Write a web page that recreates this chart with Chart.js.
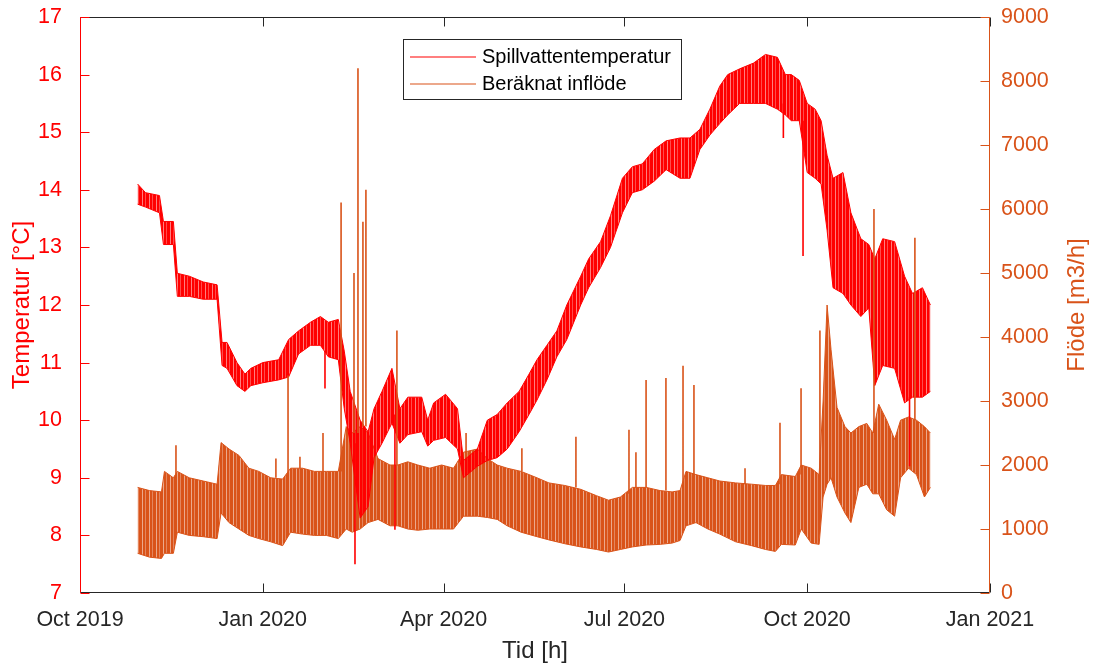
<!DOCTYPE html>
<html>
<head>
<meta charset="utf-8">
<script src="https://cdn.jsdelivr.net/npm/chart.js@4.4.1/dist/chart.umd.min.js"></script>
<style>
  html, body { margin: 0; padding: 0; background: #fff; }
  #wrap { width: 1095px; height: 666px; }
</style>
</head>
<body>
<div id="wrap"><canvas id="chart" width="1095" height="666"></canvas></div>
<script>
// x positions are days counted from 1 Oct 2019
const xTickDays = [0, 92, 183, 274, 366, 458];
const xTickLabels = ['Oct 2019', 'Jan 2020', 'Apr 2020', 'Jul 2020', 'Oct 2020', 'Jan 2021'];

// wastewater temperature, upper / lower daily envelope [°C]
const tempDays = [29, 33, 40, 42, 47, 49, 55, 62, 69, 71.5, 74, 79, 83, 86, 92, 100, 105, 110, 116, 121,
  125, 130, 133, 136, 141, 145, 148, 152, 157, 161, 165, 172, 175, 178, 184, 190, 193, 200, 205, 210,
  215, 221, 226, 230, 235, 240, 245, 252, 256, 262, 267, 273, 278, 283, 289, 295, 302, 307, 312, 317,
  322, 326, 332, 339, 345, 351, 355, 358, 362, 366, 370, 373, 376, 379, 384, 388, 393, 397, 400, 404,
  410, 415, 419, 424, 428];
const tempHigh = [14.1, 13.95, 13.9, 13.45, 13.45, 12.55, 12.5, 12.4, 12.35, 11.35, 11.35, 11.0, 10.8, 10.9, 11.0, 11.05, 11.4, 11.55, 11.7, 11.8,
  11.7, 11.75, 11.2, 10.5, 10.0, 9.8, 10.2, 10.5, 10.9, 10.2, 10.4, 10.4, 10.0, 10.3, 10.45, 10.2, 9.3, 9.5, 10.0, 10.1,
  10.3, 10.5, 10.8, 11.05, 11.3, 11.55, 12.0, 12.5, 12.8, 13.1, 13.55, 14.2, 14.4, 14.45, 14.7, 14.85, 14.9, 14.9, 15.05, 15.4,
  15.8, 16.0, 16.1, 16.2, 16.35, 16.3, 16.0, 16.0, 15.9, 15.5, 15.4, 15.2, 14.6, 14.2, 14.3, 13.6, 13.15, 13.05, 12.8, 13.15,
  13.1, 12.5, 12.2, 12.3, 12.0];
const tempLow = [13.75, 13.7, 13.6, 13.05, 13.05, 12.15, 12.15, 12.1, 12.1, 10.95, 10.9, 10.6, 10.5, 10.6, 10.65, 10.7, 10.75, 11.15, 11.3, 11.3,
  11.1, 11.05, 10.2, 9.6, 8.3, 8.5, 9.35, 9.6, 9.95, 9.6, 9.75, 9.8, 9.55, 9.65, 9.7, 9.5, 9.0, 9.2, 9.3, 9.35,
  9.5, 9.8, 10.1, 10.35, 10.7, 11.1, 11.4, 12.0, 12.3, 12.65, 13.0, 13.6, 13.95, 14.0, 14.15, 14.35, 14.2, 14.2, 14.7, 14.95,
  15.15, 15.3, 15.5, 15.5, 15.5, 15.4, 15.3, 15.2, 15.2, 14.3, 14.2, 14.1, 13.3, 12.3, 12.2, 12.0, 11.8, 11.95, 10.6, 10.95,
  10.9, 10.3, 10.4, 10.4, 10.5];

// short temperature drops: day, level before, lowest reading
const tempDropDays = [123.3, 138.4, 158.5, 354, 363.9, 417.5];
const tempDropFrom = [11.2, 9.6, 10.1, 15.5, 15.2, 10.4];
const tempDropTo = [10.55, 7.5, 8.1, 14.9, 12.85, 9.2];

// calculated inflow, upper / lower daily envelope [m3/h]
const flowDays = [29, 35, 41, 42.5, 47, 49, 55, 62, 69, 71, 75, 80, 85, 90, 96, 102, 106, 112, 118, 124,
  130, 134, 137, 141, 145, 150, 156, 160, 165, 170, 176, 182, 188, 193, 200, 205, 210, 215, 222, 230,
  236, 244, 252, 260, 266, 272, 278, 285, 292, 298, 302, 305, 310, 316, 322, 330, 338, 345, 350, 353,
  360, 363, 368, 372, 374, 376, 378, 381, 385, 388, 392, 396, 399, 402, 406, 410, 413, 417, 421, 425,
  428];
const flowHigh = [1650, 1600, 1580, 1900, 1800, 1900, 1800, 1750, 1700, 2350, 2250, 2150, 1950, 1900, 1800, 1780, 1950, 1950, 1900, 1900,
  1900, 2600, 2500, 2600, 2500, 2100, 2000, 2000, 2050, 2000, 1950, 2000, 1950, 2200, 2250, 2100, 2000, 1950, 1900, 1800,
  1720, 1680, 1620, 1520, 1450, 1500, 1650, 1650, 1600, 1580, 1600, 1900, 1850, 1800, 1750, 1720, 1700, 1680, 1680, 1850,
  1820, 2000, 1950, 1850, 3000, 4500, 3800, 2900, 2600, 2500, 2600, 2650, 2500, 2950, 2700, 2400, 2700, 2750, 2700, 2600,
  2500];
const flowLow = [620, 560, 540, 620, 620, 950, 900, 880, 850, 1250, 1100, 1000, 900, 850, 800, 740, 950, 920, 900, 900,
  850, 1000, 950, 1000, 1100, 1150, 1050, 1050, 1000, 980, 1000, 1000, 1000, 1200, 1200, 1180, 1150, 1050, 950, 880,
  830, 770, 720, 680, 640, 680, 720, 750, 760, 780, 820, 1050, 1100, 1000, 920, 800, 740, 680, 650, 760,
  750, 1000, 780, 760, 1500, 1700, 1800, 1500, 1250, 1100, 1650, 1700, 1550, 1550, 1300, 1200, 1800, 1950, 1850, 1500,
  1650];

// single-hour inflow peaks: day, band level, peak value
const flowPeakDays = [48.3, 98.6, 104.7, 110.7, 122.3, 131.4, 137.9, 139.9, 142.4, 143.9, 159.5, 194.3, 222.4,
  249.6, 276.3, 279.8, 284.9, 294.9, 303.5, 309, 334.7, 352.3, 362.9, 372.4, 399.6, 420.2];
const flowPeakBase = [1850, 1800, 1780, 1950, 1900, 1900, 2500, 2500, 2600, 2600, 2000, 2200, 1900,
  1650, 1550, 1650, 1650, 1600, 1600, 1850, 1700, 1700, 1850, 1850, 2500, 2700];
const flowPeakTop = [2310, 2100, 3400, 2130, 2500, 6100, 5000, 8200, 5800, 6300, 4100, 2500, 2260,
  2440, 2550, 2200, 3330, 3360, 3550, 3250, 1950, 2660, 3200, 4100, 6000, 5550];

const RED = '#ff0000';
const ORANGE = '#d95319';
const DARK = '#262626';
const FONT = "'Liberation Sans', Arial, sans-serif";

Chart.defaults.font.family = FONT;
Chart.defaults.color = DARK;

function series(days, vals) {
  return days.map((d, i) => ({ x: d, y: vals[i] }));
}

// vertical strokes, one per entry, separated by gaps
function strokes(days, from, to) {
  const pts = [];
  days.forEach((d, i) => {
    pts.push({ x: d, y: from[i] }, { x: d, y: to[i] }, { x: d, y: null });
  });
  return pts;
}

// striped fill so the hourly band keeps a vertical texture
function stripes(color) {
  const alphas = [1, 1, 0.5, 1, 1, 0.7, 1];
  const c = document.createElement('canvas');
  c.width = alphas.length; c.height = 4;
  const g = c.getContext('2d');
  g.fillStyle = color;
  alphas.forEach((al, i) => {
    g.globalAlpha = al;
    g.fillRect(i, 0, 1, 4);
  });
  return g.createPattern(c, 'repeat');
}

const lineBase = { borderWidth: 1, pointRadius: 0, tension: 0, spanGaps: false };

const noPad = s => { s.paddingTop = 0; s.paddingBottom = 0; s.paddingLeft = 0; s.paddingRight = 0; };

// axis lines with inward ticks
const frame = {
  id: 'frame',
  afterDraw(chart) {
    const { ctx, chartArea: a, scales } = chart;
    const tl = 9;
    const L = Math.round(a.left) + 0.5, R = Math.round(a.right) - 0.5;
    const T = Math.round(a.top) + 0.5, B = Math.round(a.bottom) - 0.5;
    ctx.save();
    ctx.lineWidth = 1;

    ctx.strokeStyle = DARK;
    ctx.beginPath();
    ctx.moveTo(L, T); ctx.lineTo(R, T);
    ctx.moveTo(L, B); ctx.lineTo(R, B);
    scales.x.ticks.forEach(t => {
      const px = Math.round(scales.x.getPixelForValue(t.value)) + 0.5;
      ctx.moveTo(px, B); ctx.lineTo(px, B - tl);
      ctx.moveTo(px, T); ctx.lineTo(px, T + tl);
    });
    ctx.stroke();

    ctx.strokeStyle = RED;
    ctx.beginPath();
    ctx.moveTo(L, T); ctx.lineTo(L, B);
    scales.y.ticks.forEach(t => {
      const py = Math.round(scales.y.getPixelForValue(t.value)) + 0.5;
      ctx.moveTo(L, py); ctx.lineTo(L + tl, py);
    });
    ctx.stroke();

    ctx.strokeStyle = ORANGE;
    ctx.beginPath();
    ctx.moveTo(R, T); ctx.lineTo(R, B);
    scales.y2.ticks.forEach(t => {
      const py = Math.round(scales.y2.getPixelForValue(t.value)) + 0.5;
      ctx.moveTo(R, py); ctx.lineTo(R - tl, py);
    });
    ctx.stroke();

    // right axis title reads bottom to top
    ctx.fillStyle = ORANGE;
    ctx.font = '24px ' + FONT;
    ctx.textAlign = 'center';
    ctx.textBaseline = 'middle';
    ctx.translate(1077, (a.top + a.bottom) / 2);
    ctx.rotate(-Math.PI / 2);
    ctx.fillText('Flöde [m3/h]', 0, 0);
    ctx.restore();
  }
};

// boxed legend inside the plot, entries in the order given
const legendLabels = ['Spillvattentemperatur', 'Beräknat inflöde'];
const boxLegend = {
  id: 'boxLegend',
  afterDraw(chart) {
    const { ctx } = chart;
    const x0 = 403.5, y0 = 39.5, w = 278, h = 60;
    ctx.save();
    ctx.fillStyle = '#ffffff';
    ctx.fillRect(x0, y0, w, h);
    ctx.strokeStyle = DARK;
    ctx.lineWidth = 1;
    ctx.strokeRect(x0, y0, w, h);
    ctx.font = '20px ' + FONT;
    ctx.textBaseline = 'middle';
    ctx.textAlign = 'left';
    legendLabels.forEach((text, i) => {
      const ds = chart.data.datasets.find(d => d.label === text);
      const y = 57 + i * 27;
      ctx.strokeStyle = ds.borderColor === RED ? RED : ORANGE;
      ctx.lineWidth = 1.2;
      ctx.beginPath();
      ctx.moveTo(410, y); ctx.lineTo(476, y);
      ctx.stroke();
      ctx.fillStyle = '#000000';
      ctx.fillText(text, 482, y);
    });
    ctx.restore();
  }
};

new Chart(document.getElementById('chart'), {
  type: 'line',
  data: {
    datasets: [
      Object.assign({}, lineBase, {
        label: 'Beräknat inflöde',
        data: series(flowDays, flowHigh), yAxisID: 'y2',
        borderColor: ORANGE, backgroundColor: stripes(ORANGE), fill: '+1', order: 4
      }),
      Object.assign({}, lineBase, {
        label: 'flow low', data: series(flowDays, flowLow), yAxisID: 'y2',
        borderColor: ORANGE, fill: false, order: 4
      }),
      Object.assign({}, lineBase, {
        label: 'Spillvattentemperatur',
        data: series(tempDays, tempHigh), yAxisID: 'y',
        borderColor: RED, backgroundColor: stripes(RED), fill: '+1', order: 3
      }),
      Object.assign({}, lineBase, {
        label: 'temp low', data: series(tempDays, tempLow), yAxisID: 'y',
        borderColor: RED, fill: false, order: 3
      }),
      Object.assign({}, lineBase, {
        label: 'temp drops', data: strokes(tempDropDays, tempDropFrom, tempDropTo), yAxisID: 'y',
        borderColor: RED, borderWidth: 1.6, fill: false, order: 2
      }),
      Object.assign({}, lineBase, {
        label: 'flow peaks', data: strokes(flowPeakDays, flowPeakBase, flowPeakTop), yAxisID: 'y2',
        borderColor: ORANGE, borderWidth: 1.6, fill: false, order: 1
      })
    ]
  },
  options: {
    responsive: false,
    animation: false,
    events: [],
    layout: { padding: { top: 17, left: 0, right: 0, bottom: 0 } },
    plugins: { legend: { display: false }, tooltip: { enabled: false } },
    scales: {
      x: {
        type: 'linear', min: 0, max: 458,
        grid: { display: false }, border: { display: false },
        afterBuildTicks: s => { s.ticks = xTickDays.map(v => ({ value: v })); },
        afterFit: s => { s.height = 73; noPad(s); },
        ticks: {
          color: DARK, font: { size: 21.5 }, padding: 6, maxRotation: 0, autoSkip: false,
          callback: v => xTickLabels[xTickDays.indexOf(v)]
        },
        title: { display: true, text: 'Tid [h]', color: DARK, font: { size: 24 }, padding: { top: 0, bottom: 0 } }
      },
      y: {
        position: 'left', min: 7, max: 17,
        grid: { display: false }, border: { display: false },
        afterFit: s => { s.width = 80; noPad(s); },
        ticks: { stepSize: 1, color: RED, font: { size: 21.5 }, padding: 10, callback: v => String(v) },
        title: { display: true, text: 'Temperatur [°C]', color: RED, font: { size: 24 }, padding: { top: 8, bottom: 0 } }
      },
      y2: {
        position: 'right', min: 0, max: 9000,
        grid: { display: false }, border: { display: false },
        afterFit: s => { s.width = 105; noPad(s); },
        ticks: { stepSize: 1000, color: ORANGE, font: { size: 21.5 }, padding: 3, callback: v => String(v) }
      }
    }
  },
  plugins: [frame, boxLegend]
});
</script>
</body>
</html>
